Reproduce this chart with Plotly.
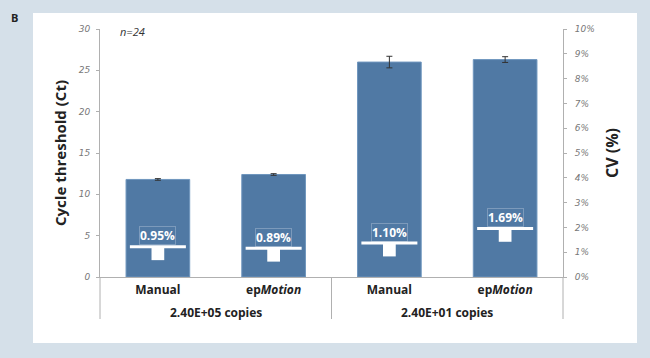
import plotly.graph_objects as go

# ---- data ----
categories = ["Manual", "ep<i>Motion</i>", "Manual", "ep<i>Motion</i>"]
groups = ["2.40E+05 copies", "2.40E+01 copies"]
ct_values = [11.8, 12.4, 26.0, 26.3]
ct_errors = [0.1, 0.1, 0.7, 0.35]
cv_values = [0.95, 0.89, 1.10, 1.69]
cv_labels = ["0.95%", "0.89%", "1.10%", "1.69%"]
left_ticks = [0, 5, 10, 15, 20, 25, 30]
right_ticks = list(range(0, 11))

xpos = list(range(len(categories)))

W, H = 650, 358
ml, mr, mt, mb = 100, 87, 29, 81
pw = W - ml - mr
ph = H - mt - mb


def px(xp):
    return (xp - ml) / pw


def py(yp):
    return (H - mb - yp) / ph


fig = go.Figure()

fig.add_trace(go.Bar(
    x=xpos, y=ct_values, width=0.55,
    marker=dict(color="#5079a4", line=dict(color="#6f96be", width=1)),
    error_y=dict(type="data", array=ct_errors, color="#333", thickness=1, width=3),
    showlegend=False, hoverinfo="skip",
))

# CV marker: block below + horizontal line
half = 0.27
fig.add_trace(go.Bar(
    x=xpos, y=[2 * half] * len(cv_values), base=[v - half for v in cv_values],
    width=0.11, yaxis="y2", marker=dict(color="white", line=dict(width=0)),
    showlegend=False, hoverinfo="skip",
))
fig.add_trace(go.Scatter(
    x=xpos, y=[v + half for v in cv_values], yaxis="y2", mode="markers",
    marker=dict(symbol="line-ew", size=40, line=dict(color="white", width=3)),
    showlegend=False, hoverinfo="skip",
))

annotations = []
for xi, v, lab in zip(xpos, cv_values, cv_labels):
    annotations.append(dict(
        x=xi, y=v + half, xref="x", yref="y2", yshift=11, text="<b>" + lab + "</b>",
        showarrow=False, font=dict(color="white", size=12, family="Open Sans"),
        bordercolor="rgba(255,255,255,0.25)", borderwidth=1, borderpad=0,
    ))

# group labels
for gx, g in zip([0.5, 2.5], groups):
    annotations.append(dict(x=gx, y=py(312), xref="x", yref="paper", yanchor="middle",
                            xanchor="center", text="<b>" + g + "</b>", showarrow=False,
                            font=dict(size=12, family="Open Sans", color="#222")))
annotations.append(dict(x=px(118), y=py(32), xref="paper", yref="paper",
                        text="<i>n=24</i>", showarrow=False, xanchor="left", yanchor="middle",
                        font=dict(size=11, family="Open Sans", color="#333")))
annotations.append(dict(x=px(14), y=py(18), xref="paper", yref="paper",
                        xanchor="center", yanchor="middle", text="<b>B</b>",
                        showarrow=False, font=dict(size=11, family="Open Sans", color="#222")))
# axis titles
annotations.append(dict(x=px(60), y=py(153), xref="paper", yref="paper",
                        xanchor="center", yanchor="middle",
                        text="<b>Cycle threshold (Ct)</b>", textangle=-90, showarrow=False,
                        font=dict(size=15, family="Open Sans", color="#222")))
annotations.append(dict(x=px(612), y=py(153), xref="paper", yref="paper",
                        xanchor="center", yanchor="middle",
                        text="<b>CV (%)</b>", textangle=-90, showarrow=False,
                        font=dict(size=16, family="Open Sans", color="#222")))

shapes = [
    # white panel
    dict(type="rect", xref="paper", yref="paper", x0=px(33), x1=px(637), y0=py(343), y1=py(13),
         fillcolor="white", line=dict(width=0), layer="below"),
    # extended axis lines
    dict(type="line", xref="paper", yref="paper", x0=0, x1=0, y0=py(319), y1=0,
         line=dict(color="#b0b0b0", width=1)),
    dict(type="line", xref="paper", yref="paper", x0=1, x1=1, y0=py(319), y1=0,
         line=dict(color="#b0b0b0", width=1)),
    dict(type="line", xref="x", yref="paper", x0=1.5, x1=1.5, y0=py(319), y1=0,
         line=dict(color="#b0b0b0", width=1)),
]

fig.update_layout(
    width=W, height=H,
    margin=dict(l=ml, r=mr, t=mt, b=mb),
    paper_bgcolor="#d5e0e9", plot_bgcolor="white",
    barmode="overlay",
    xaxis=dict(range=[-0.5, 3.5], tickvals=xpos,
               ticktext=["<b>" + c + "</b>" for c in categories],
               tickfont=dict(size=12, family="Open Sans", color="#222"),
               showgrid=False, zeroline=False, showline=True, linecolor="#b0b0b0",
               ticks="", ticklabelstandoff=2),
    yaxis=dict(range=[0, 30], tickvals=left_ticks, showgrid=False, zeroline=False,
               showline=True, linecolor="#b0b0b0", ticks="outside", ticklen=3,
               tickcolor="#b0b0b0",
               tickfont=dict(size=9, family="DejaVu Sans", color="#777", style="italic"),
               ticklabelstandoff=4),
    yaxis2=dict(range=[0, 10], overlaying="y", side="right", tickvals=right_ticks,
                ticktext=[f"{t}%" for t in right_ticks], showgrid=False, zeroline=False,
                showline=True, linecolor="#b0b0b0", ticks="outside", ticklen=3,
                tickcolor="#b0b0b0",
                tickfont=dict(size=9, family="DejaVu Sans", color="#777", style="italic"),
                ticklabelstandoff=6),
    annotations=annotations,
    shapes=shapes,
    font=dict(family="Open Sans"),
)

fig.write_html("out.html", config={"displayModeBar": False},
               post_script="document.body.style.margin='0';")
